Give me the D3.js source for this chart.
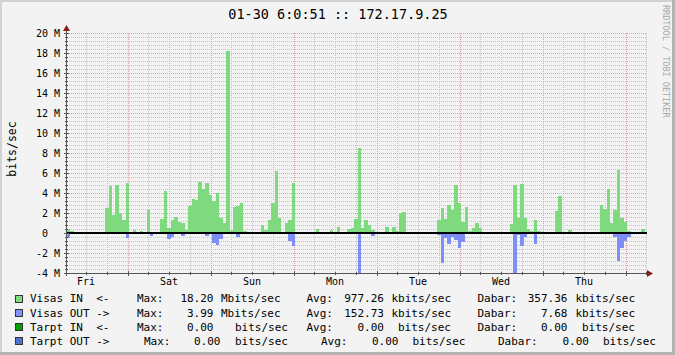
<!DOCTYPE html>
<html>
<head>
<meta charset="utf-8">
<script src="https://cdn.jsdelivr.net/npm/d3@7"></script>
<style>
  html, body { margin: 0; padding: 0; background: #f3f3f3; }
  svg { display: block; font-family: "DejaVu Sans Mono", monospace; }
  text { white-space: pre; }
</style>
</head>
<body>
<svg id="chart" width="675" height="355"></svg>
<script>
// Graph title and time window (one value per hour, 7 days).
const title = '01-30 6:0:51 :: 172.17.9.25';
const startTime = new Date(2015, 0, 23, 6, 30);
const hoursShown = 168;

// Visas IN, Mbit/s, hourly (one row per 24 h).
const visasIn = [
  0.4, 0.2, 0, 0, 0, 0, 0, 0, 0, 0, 0, 2.5, 4.7, 1.8, 4.8, 2.0, 1.3, 5.0, 0.1, 0.35, 0, 0.2, 0, 2.3,
  0.1, 0, 0, 1.4, 4.2, 0.5, 1.3, 1.6, 1.1, 1.0, 0.3, 2.7, 3.4, 3.3, 5.1, 4.4, 5.0, 3.8, 3.2, 4.0, 1.5, 1.0, 18.2, 0.3,
  2.6, 2.7, 3.0, 0.2, 0, 0, 0, 0, 0.8, 0.3, 1.3, 3.0, 6.2, 1.5, 0.1, 1.0, 1.3, 5.0, 0, 0, 0, 0, 0, 0,
  0.4, 0, 0, 0, 0.3, 0, 0.6, 0, 0, 0.4, 0.5, 1.4, 8.5, 0.5, 1.3, 0.8, 0.3, 0, 0, 0, 0.6, 0, 0.6, 0.2,
  2.0, 2.1, 0, 0, 0, 0, 0, 0, 0, 0, 0, 1.3, 2.5, 1.4, 2.8, 2.3, 4.8, 3.0, 1.1, 2.6, 0.2, 0.5, 1.0, 0.5,
  0, 0, 0, 0, 0, 0.1, 0, 0.1, 0.9, 4.8, 1.5, 4.9, 1.5, 0.4, 0.2, 1.3, 0.2, 0, 0, 0, 0, 2.2, 3.7, 0.1,
  0, 0.3, 0, 0, 0, 0, 0, 0, 0, 0, 2.8, 2.4, 4.4, 1.0, 2.3, 6.3, 1.5, 1.1, 0.2, 0, 0.1, 0, 0.4, 0
];

// Visas OUT, Mbit/s, hourly (drawn below zero).
const visasOut = [
  0.5, 0, 0, 0, 0, 0, 0, 0, 0, 0, 0, 0, 0.1, 0, 0.1, 0, 0, 0.5, 0, 0, 0, 0, 0, 0,
  0.3, 0, 0, 0, 0, 0.6, 0.4, 0, 0, 0.3, 0, 0, 0, 0, 0, 0, 0.3, 0, 1.0, 1.2, 0.6, 0, 0, 0,
  0, 0.4, 0, 0.1, 0, 0, 0, 0, 0, 0, 0.1, 0.1, 0, 0, 0, 0.1, 0.8, 1.3, 0, 0, 0, 0, 0, 0,
  0, 0, 0, 0, 0, 0, 0, 0, 0, 0, 0, 0, 4.0, 0, 0, 0.1, 0.3, 0, 0, 0, 0, 0, 0, 0,
  0, 0, 0, 0, 0, 0, 0, 0, 0, 0, 0, 0.2, 3.0, 0.5, 1.1, 0.4, 0.7, 1.5, 0.9, 0, 0, 0, 0, 0,
  0, 0, 0, 0, 0, 0, 0, 0, 0, 4.0, 0.2, 1.3, 0.4, 0, 0, 1.1, 0, 0, 0, 0, 0, 0, 0, 0,
  0, 0, 0, 0, 0, 0, 0, 0, 0, 0, 0, 0, 0.1, 0.1, 0.4, 2.8, 1.5, 0.8, 0.4, 0, 0, 0, 0, 0
];

// Y ticks (Mbit/s).
const yMajor = [-4, -2, 0, 2, 4, 6, 8, 10, 12, 14, 16, 18, 20];
const yMinorStep = 0.4;

// Legend.
const legendNames = ['Visas IN  <-', 'Visas OUT ->', 'Tarpt IN  <-', 'Tarpt OUT ->'];
const legendColors = ['#80dc80', '#8090ff', '#00a000', '#5070d0'];
const maxValues = ['18.20', '3.99', '0.00', '0.00'];
const maxUnits = ['Mbits/sec', 'Mbits/sec', 'bits/sec', 'bits/sec'];
const avgValues = ['977.26', '152.73', '0.00', '0.00'];
const avgUnits = ['kbits/sec', 'kbits/sec', 'bits/sec', 'bits/sec'];
const nowValues = ['357.36', '7.68', '0.00', '0.00'];
const nowUnits = ['kbits/sec', 'kbits/sec', 'bits/sec', 'bits/sec'];

const W = 675, H = 355;
const plot = { left: 67, right: 648, top: 33, bottom: 273 };
const inColor = '#7fda7f', outColor = '#7f8ef7';

const svg = d3.select('#chart');

// Background and frame.
svg.append('rect').attr('width', W).attr('height', H).attr('fill', '#f3f3f3');
svg.append('rect').attr('x', 0).attr('y', 0).attr('width', W).attr('height', 2).attr('fill', '#d2d2d2');
svg.append('rect').attr('x', 0).attr('y', 0).attr('width', 2).attr('height', H).attr('fill', '#d2d2d2');
svg.append('rect').attr('x', W - 3).attr('y', 0).attr('width', 3).attr('height', H).attr('fill', '#b4b4b4');
svg.append('rect').attr('x', 0).attr('y', H - 3).attr('width', W).attr('height', 3).attr('fill', '#b4b4b4');

const endTime = d3.timeHour.offset(startTime, hoursShown);
const x = d3.scaleTime().domain([startTime, endTime]).range([plot.left, plot.right]);
const y = d3.scaleLinear().domain([-4, 20]).range([plot.bottom, plot.top]);

// Grid.
const grid = svg.append('g').attr('shape-rendering', 'crispEdges').attr('fill', 'none');
const gridRight = plot.right - 1;
const minorY = d3.range(0, Math.round(24 / yMinorStep) + 1).map(i => -4 + i * yMinorStep)
  .filter((d, i) => i % 5 !== 0);
grid.selectAll('line.hminor').data(minorY).join('line')
  .attr('x1', plot.left).attr('x2', gridRight)
  .attr('y1', d => Math.round(y(d)) + 0.5).attr('y2', d => Math.round(y(d)) + 0.5)
  .attr('stroke', '#c4c4c4').attr('stroke-dasharray', '1,1');

const sixHours = d3.timeHour.every(6).range(startTime, endTime);
const midnights = d3.timeDay.range(startTime, endTime);
grid.selectAll('line.vminor').data(sixHours.filter(t => t.getHours() !== 0)).join('line')
  .attr('x1', d => Math.round(x(d)) + 0.5).attr('x2', d => Math.round(x(d)) + 0.5)
  .attr('y1', plot.top).attr('y2', plot.bottom)
  .attr('stroke', '#c4c4c4').attr('stroke-dasharray', '1,1');

grid.selectAll('line.hmajor').data(yMajor).join('line')
  .attr('x1', plot.left).attr('x2', gridRight)
  .attr('y1', d => Math.round(y(d)) + 0.5).attr('y2', d => Math.round(y(d)) + 0.5)
  .attr('stroke', '#e09a9a').attr('stroke-dasharray', '1,1');
grid.selectAll('line.vmajor').data(midnights).join('line')
  .attr('x1', d => Math.round(x(d)) + 0.5).attr('x2', d => Math.round(x(d)) + 0.5)
  .attr('y1', plot.top).attr('y2', plot.bottom)
  .attr('stroke', '#e09a9a').attr('stroke-dasharray', '1,1');

// Bars: hourly areas, IN above zero, OUT below.
const hours = d3.range(hoursShown);
const t0 = h => d3.timeHour.offset(startTime, h);
const bars = svg.append('g').attr('shape-rendering', 'crispEdges');
bars.selectAll('rect.in').data(hours.filter(h => visasIn[h] > 0)).join('rect')
  .attr('x', h => x(t0(h)))
  .attr('width', h => x(t0(h + 1)) - x(t0(h)))
  .attr('y', h => y(visasIn[h]))
  .attr('height', h => y(0) - y(visasIn[h]))
  .attr('fill', inColor);
bars.selectAll('rect.out').data(hours.filter(h => visasOut[h] > 0)).join('rect')
  .attr('x', h => x(t0(h)))
  .attr('width', h => x(t0(h + 1)) - x(t0(h)))
  .attr('y', y(0))
  .attr('height', h => y(-visasOut[h]) - y(0))
  .attr('fill', outColor);

// Zero line.
svg.append('line')
  .attr('x1', plot.left).attr('x2', gridRight)
  .attr('y1', y(0)).attr('y2', y(0))
  .attr('stroke', '#000').attr('stroke-width', 2)
  .attr('shape-rendering', 'crispEdges');

// Axes with ticks.
const axisColor = '#555';
const axes = svg.append('g').attr('shape-rendering', 'crispEdges').attr('stroke', axisColor);
axes.append('line').attr('x1', plot.left - 0.5).attr('x2', plot.left - 0.5)
  .attr('y1', plot.bottom + 3).attr('y2', plot.top - 4);
axes.append('line').attr('x1', plot.left - 3).attr('x2', plot.right + 2)
  .attr('y1', plot.bottom + 0.5).attr('y2', plot.bottom + 0.5);
axes.selectAll('line.ytick').data(yMajor).join('line')
  .attr('x1', plot.left - 3).attr('x2', plot.left + 2)
  .attr('y1', d => Math.round(y(d)) + 0.5).attr('y2', d => Math.round(y(d)) + 0.5);
axes.selectAll('line.ytickm').data(minorY).join('line')
  .attr('x1', plot.left - 2).attr('x2', plot.left + 1)
  .attr('y1', d => Math.round(y(d)) + 0.5).attr('y2', d => Math.round(y(d)) + 0.5);
axes.selectAll('line.xtick').data(midnights).join('line')
  .attr('x1', d => Math.round(x(d)) + 0.5).attr('x2', d => Math.round(x(d)) + 0.5)
  .attr('y1', plot.bottom - 2).attr('y2', plot.bottom + 3);
axes.selectAll('line.xtickm').data(sixHours.filter(t => t.getHours() !== 0)).join('line')
  .attr('x1', d => Math.round(x(d)) + 0.5).attr('x2', d => Math.round(x(d)) + 0.5)
  .attr('y1', plot.bottom - 1).attr('y2', plot.bottom + 2);

// Arrow heads.
const arrowColor = '#8b1a1a';
svg.append('path')
  .attr('d', `M${plot.left - 4},${plot.top - 2}L${plot.left + 3},${plot.top - 2}L${plot.left - 0.5},${plot.top - 8}Z`)
  .attr('fill', arrowColor);
svg.append('path')
  .attr('d', `M${plot.right - 1},${plot.bottom - 3}L${plot.right - 1},${plot.bottom + 4}L${plot.right + 5},${plot.bottom + 0.5}Z`)
  .attr('fill', arrowColor);

// Y tick labels ("0" keeps the room of the unit, as rrdtool does).
svg.append('g').selectAll('text').data(yMajor).join('text')
  .attr('x', 60).attr('y', d => y(d) + 3.6)
  .attr('text-anchor', 'end')
  .style('font-size', '10px')
  .attr('fill', '#000')
  .text(d => d === 0 ? '0  ' : d + ' M');

// Day labels at noon.
const noons = d3.timeDay.range(d3.timeDay.floor(startTime), endTime)
  .map(d => d3.timeHour.offset(d, 12))
  .filter(d => d > startTime && d < endTime);
svg.append('g').selectAll('text').data(noons).join('text')
  .attr('x', d => x(d)).attr('y', 285)
  .attr('text-anchor', 'middle')
  .style('font-size', '10px')
  .attr('fill', '#000')
  .text(d3.timeFormat('%a'));

// Title, y label, credit.
svg.append('text')
  .attr('x', 338).attr('y', 18.5)
  .attr('text-anchor', 'middle')
  .style('font-size', '13.5px')
  .attr('fill', '#000')
  .text(title);
svg.append('text')
  .attr('transform', 'translate(15.5,149) rotate(-90)')
  .attr('text-anchor', 'middle')
  .style('font-size', '11.5px')
  .attr('fill', '#000')
  .text('bits/sec');
svg.append('text')
  .attr('transform', 'translate(663,5) rotate(90)')
  .style('font-size', '8.5px')
  .attr('fill', '#a8a8a8')
  .text('RRDTOOL / TOBI OETIKER');

// Legend; column positions follow rrdtool's tab alignment per row.
const legendCols = [
  [137, 213.5, 221, 306.5, 384, 391.5, 477.5, 567.5, 575.5],
  [137, 213.5, 221, 306.5, 384, 391.5, 477.5, 567.5, 575.5],
  [137, 213.5, 235, 306.5, 384, 398, 477.5, 567.5, 582],
  [144, 220.5, 235, 321, 398.5, 412.5, 498, 589, 603]
];
const legend = svg.append('g').style('font-size', '11px').attr('fill', '#000');
legendNames.forEach((name, i) => {
  const by = 302.3 + i * 14.2;
  const c = legendCols[i];
  legend.append('rect')
    .attr('x', 15.5).attr('y', by - 7.3).attr('width', 7).attr('height', 7)
    .attr('fill', legendColors[i]).attr('stroke', '#333').attr('stroke-width', 1)
    .attr('shape-rendering', 'crispEdges');
  legend.append('text').attr('x', 30).attr('y', by).text(name);
  legend.append('text').attr('x', c[0]).attr('y', by).text('Max:');
  legend.append('text').attr('x', c[1]).attr('y', by).attr('text-anchor', 'end').text(maxValues[i]);
  legend.append('text').attr('x', c[2]).attr('y', by).text(maxUnits[i]);
  legend.append('text').attr('x', c[3]).attr('y', by).text('Avg:');
  legend.append('text').attr('x', c[4]).attr('y', by).attr('text-anchor', 'end').text(avgValues[i]);
  legend.append('text').attr('x', c[5]).attr('y', by).text(avgUnits[i]);
  legend.append('text').attr('x', c[6]).attr('y', by).text('Dabar:');
  legend.append('text').attr('x', c[7]).attr('y', by).attr('text-anchor', 'end').text(nowValues[i]);
  legend.append('text').attr('x', c[8]).attr('y', by).text(nowUnits[i]);
});
</script>
</body>
</html>
